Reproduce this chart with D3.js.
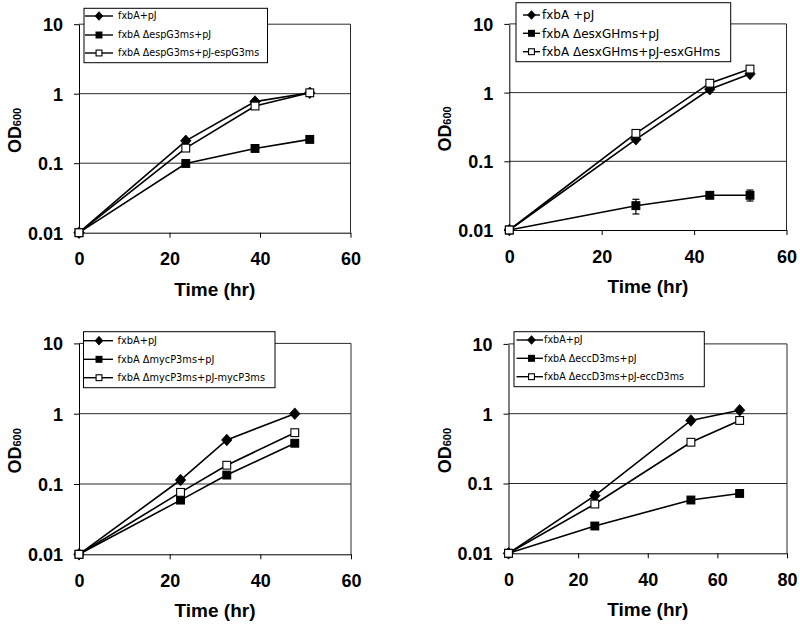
<!DOCTYPE html>
<html>
<head>
<meta charset="utf-8">
<script src="https://cdn.jsdelivr.net/npm/d3@7"></script>
<style>
  html, body { margin: 0; padding: 0; background: #fff; }
  svg { display: block; }
</style>
</head>
<body>
<svg id="chart" width="800" height="624"></svg>
<script>
// ---------------- DATA ----------------
const yTickValues = [0.01, 0.1, 1, 10];
const yTickLabels = ["0.01", "0.1", "1", "10"];

// Panel A (espG3)
const timeA = [0, 23.6, 38.9, 51.0];
const wtA   = [0.01, 0.21, 0.77, 1.03];
const mutA  = [0.01, 0.099, 0.163, 0.22];
const compA = [0.01, 0.165, 0.665, 1.03];
const mutErrLoA = [null, null, null, 0.205];
const mutErrHiA = [null, null, null, 0.235];
const legendA = ["fxbA+pJ", "fxbA  ΔespG3ms+pJ", "fxbA  ΔespG3ms+pJ-espG3ms"];
const xTicksA = [0, 20, 40, 60];

// Panel B (esxGH)
const timeB = [0, 27.4, 43.4, 52.1];
const wtB   = [0.01, 0.209, 1.12, 1.87];
const mutB  = [0.01, 0.0226, 0.032, 0.032];
const compB = [0.01, 0.255, 1.37, 2.2];
const mutErrLoB = [null, 0.0171, null, 0.0264];
const mutErrHiB = [null, 0.028, null, 0.0382];
const legendB = ["fxbA +pJ", "fxbA  ΔesxGHms+pJ", "fxbA  ΔesxGHms+pJ-esxGHms"];
const xTicksB = [0, 20, 40, 60];

// Panel C (mycP3)
const timeC = [0, 22.4, 32.6, 47.6];
const wtC   = [0.01, 0.114, 0.423, 1.0];
const mutC  = [0.01, 0.059, 0.134, 0.38];
const compC = [0.01, 0.076, 0.185, 0.537];
const mutErrLoC = [null, 0.054, 0.124, 0.355];
const mutErrHiC = [null, 0.065, 0.146, 0.405];
const legendC = ["fxbA+pJ", "fxbA  ΔmycP3ms+pJ", "fxbA  ΔmycP3ms+pJ-mycP3ms"];
const xTicksC = [0, 20, 40, 60];

// Panel D (eccD3)
const timeD = [0, 24.8, 52.4, 66.4];
const wtD   = [0.01, 0.067, 0.80, 1.12];
const mutD  = [0.01, 0.0246, 0.058, 0.072];
const compD = [0.01, 0.0508, 0.39, 0.80];
const wtErrLoD = [null, 0.058, null, null];
const wtErrHiD = [null, 0.076, null, null];
const mutErrLoD = [null, 0.0225, 0.055, 0.068];
const mutErrHiD = [null, 0.027, 0.061, 0.077];
const legendD = ["fxbA+pJ", "fxbA  ΔeccD3ms+pJ", "fxbA  ΔeccD3ms+pJ-eccD3ms"];
const xTicksD = [0, 20, 40, 60, 80];

// ---------------- LAYOUT ----------------
const panels = [
  { time: timeA, series: [wtA, mutA, compA], errLo: [null, mutErrLoA, null], errHi: [null, mutErrHiA, null],
    legend: legendA, xTicks: xTicksA,
    x0: 79, x1: 350.5, yTop: 24.2, yBot: 232.7,
    lg: { x: 84, y: 8.3, w: 183.5, h: 54.4, l0: 85, l1: 113, m: 99, tx: 118, fs: 9.6, rows: [16, 35, 53] } },
  { time: timeB, series: [wtB, mutB, compB], errLo: [null, mutErrLoB, null], errHi: [null, mutErrHiB, null],
    legend: legendB, xTicks: xTicksB,
    x0: 509.3, x1: 786.5, yTop: 23.9, yBot: 230,
    lg: { x: 516, y: 2.7, w: 214.7, h: 59, l0: 523, l1: 540, m: 531.5, tx: 542, fs: 12, rows: [15, 33.3, 51.7] } },
  { time: timeC, series: [wtC, mutC, compC], errLo: [null, mutErrLoC, null], errHi: [null, mutErrHiC, null],
    legend: legendC, xTicks: xTicksC,
    x0: 79, x1: 351, yTop: 343.4, yBot: 554.3,
    lg: { x: 83.5, y: 331.7, w: 191.5, h: 56, l0: 84, l1: 113, m: 99, tx: 117.5, fs: 9.8, rows: [340.7, 359.3, 377.7] } },
  { time: timeD, series: [wtD, mutD, compD], errLo: [wtErrLoD, mutErrLoD, null], errHi: [wtErrHiD, mutErrHiD, null],
    legend: legendD, xTicks: xTicksD,
    x0: 508.5, x1: 787, yTop: 343.9, yBot: 553.3,
    lg: { x: 514, y: 331.7, w: 190.3, h: 55, l0: 516.5, l1: 543, m: 531.5, tx: 544, fs: 9.6, rows: [340, 358.3, 376.7] } }
];

const markerTypes = ["diamond", "square", "openSquare"];
const svg = d3.select("#chart");
const BOLD = "'Liberation Sans', Arial, sans-serif";

function drawMarker(g, type, cx, cy, size) {
  if (type === "diamond") {
    const h = size * 0.58, w = size * 0.52;
    g.append("path")
      .attr("d", `M${cx},${cy - h}L${cx + w},${cy}L${cx},${cy + h}L${cx - w},${cy}Z`)
      .attr("fill", "#000").attr("stroke", "#000").attr("stroke-width", 0.8);
  } else {
    const s = size * 0.78;
    g.append("rect")
      .attr("x", cx - s / 2).attr("y", cy - s / 2).attr("width", s).attr("height", s)
      .attr("fill", type === "square" ? "#000" : "#fff")
      .attr("stroke", "#000").attr("stroke-width", 1.1);
  }
}

panels.forEach(p => {
  const xMax = p.xTicks[p.xTicks.length - 1];
  const x = d3.scaleLinear().domain([0, xMax]).range([p.x0, p.x1]);
  const y = d3.scaleLog().domain([0.01, 10]).range([p.yBot, p.yTop]);
  const g = svg.append("g");

  // gridlines at 0.1, 1, 10
  g.selectAll(".grid").data(yTickValues.slice(1)).enter().append("line")
    .attr("x1", p.x0).attr("x2", p.x1)
    .attr("y1", d => y(d)).attr("y2", d => y(d))
    .attr("stroke", "#2a2a2a").attr("stroke-width", 1);
  // right border
  g.append("line").attr("x1", p.x1).attr("x2", p.x1)
    .attr("y1", p.yTop).attr("y2", p.yBot)
    .attr("stroke", "#2a2a2a").attr("stroke-width", 1);

  // x axis
  const xAxis = d3.axisBottom(x).tickValues(p.xTicks).tickFormat(d3.format("d"))
    .tickSizeInner(5).tickSizeOuter(0).tickPadding(15);
  const gx = g.append("g").attr("transform", `translate(0,${p.yBot})`).call(xAxis);
  gx.selectAll("text").attr("font-family", BOLD).attr("font-weight", "bold")
    .attr("font-size", 18).attr("fill", "#000");
  gx.selectAll("line, path").attr("stroke", "#000");

  // y axis
  const yAxis = d3.axisLeft(y).tickValues(yTickValues)
    .tickFormat((d, i) => yTickLabels[i])
    .tickSizeInner(5).tickSizeOuter(0).tickPadding(11);
  const gy = g.append("g").attr("transform", `translate(${p.x0},0)`).call(yAxis);
  gy.selectAll("text").attr("font-family", BOLD).attr("font-weight", "bold")
    .attr("font-size", 18).attr("fill", "#000").attr("dy", "0.36em");
  gy.selectAll("line, path").attr("stroke", "#000");

  // axis titles
  g.append("text")
    .attr("x", (p.x0 + p.x1) / 2).attr("y", p.yBot + 63)
    .attr("text-anchor", "middle")
    .attr("font-family", BOLD).attr("font-weight", "bold").attr("font-size", 19)
    .text("Time (hr)");
  const yl = g.append("text")
    .attr("transform", `translate(${p.x0 - 58},${(p.yTop + p.yBot) / 2 + 2}) rotate(-90)`)
    .attr("text-anchor", "middle")
    .attr("font-family", BOLD).attr("font-weight", "bold").attr("font-size", 18);
  yl.append("tspan").text("OD");
  yl.append("tspan").attr("font-size", 11).text("600");

  // series lines
  const line = d3.line().x((d, i) => x(p.time[i])).y(d => y(d));
  p.series.forEach(s => {
    g.append("path").datum(s).attr("d", line)
      .attr("fill", "none").attr("stroke", "#000").attr("stroke-width", 1.6);
  });

  // error bars
  p.series.forEach((s, si) => {
    const lo = p.errLo[si], hi = p.errHi[si];
    if (!lo) return;
    s.forEach((v, i) => {
      if (lo[i] == null) return;
      const cx = x(p.time[i]);
      g.append("line").attr("x1", cx).attr("x2", cx)
        .attr("y1", y(lo[i])).attr("y2", y(hi[i])).attr("stroke", "#000").attr("stroke-width", 1.2);
      [lo[i], hi[i]].forEach(e => {
        g.append("line").attr("x1", cx - 3.5).attr("x2", cx + 3.5)
          .attr("y1", y(e)).attr("y2", y(e)).attr("stroke", "#000").attr("stroke-width", 1.2);
      });
    });
  });

  // markers
  p.series.forEach((s, si) => {
    s.forEach((v, i) => drawMarker(g, markerTypes[si], x(p.time[i]), y(v), 10));
  });

  // legend
  const L = p.lg;
  g.append("rect").attr("x", L.x).attr("y", L.y).attr("width", L.w).attr("height", L.h)
    .attr("fill", "#fff").attr("stroke", "#000").attr("stroke-width", 1);
  p.legend.forEach((name, i) => {
    const ry = L.rows[i];
    g.append("line").attr("x1", L.l0).attr("x2", L.l1).attr("y1", ry).attr("y2", ry)
      .attr("stroke", "#000").attr("stroke-width", 1.4);
    drawMarker(g, markerTypes[i], L.m, ry, 7.5);
    g.append("text").attr("x", L.tx).attr("y", ry).attr("dy", "0.35em")
      .attr("font-family", "'DejaVu Sans', Verdana, sans-serif").attr("font-size", L.fs)
      .attr("fill", "#000")
      .text(name);
  });
});
</script>
</body>
</html>
